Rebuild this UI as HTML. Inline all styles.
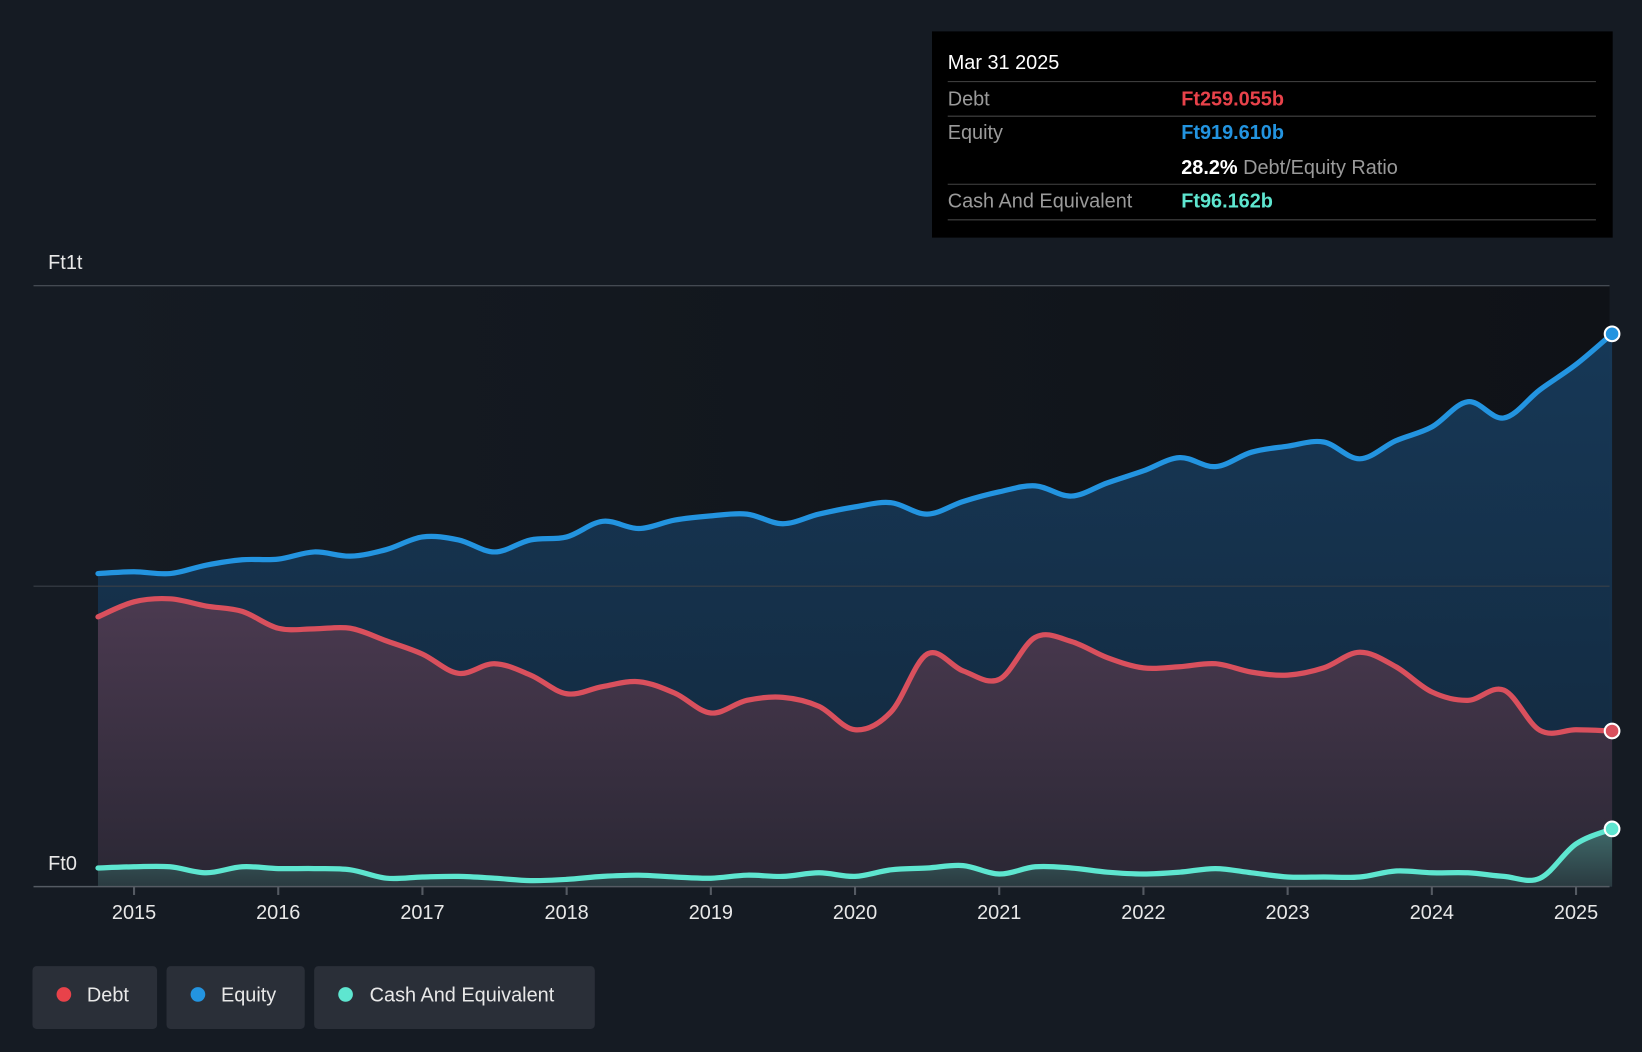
<!DOCTYPE html>
<html><head><meta charset="utf-8"><style>
html,body{margin:0;padding:0;background:#151b23;}
svg{display:block;font-family:"Liberation Sans",Arial,sans-serif;}
</style></head><body>
<svg id="chart" width="1642" height="1052" viewBox="0 0 1568 1005" preserveAspectRatio="none">
<defs>
<linearGradient id="gEq" x1="0" y1="0" x2="0" y2="1"><stop offset="0" stop-color="#173a5a" stop-opacity="0.95"/><stop offset="1" stop-color="#132a40" stop-opacity="0.9"/></linearGradient>
<linearGradient id="gDebt" x1="0" y1="0" x2="0" y2="1"><stop offset="0" stop-color="#4b3a50"/><stop offset="1" stop-color="#2a2734"/></linearGradient>
<linearGradient id="gCash" x1="0" y1="0" x2="0" y2="1"><stop offset="0" stop-color="#3f6a6a"/><stop offset="1" stop-color="#2a3a40"/></linearGradient>
<linearGradient id="gBg" x1="0" y1="0" x2="1" y2="0"><stop offset="0" stop-color="#151b23"/><stop offset="1" stop-color="#0f1217"/></linearGradient>
</defs>
<rect x="0" y="0" width="1568" height="1005" fill="#151b23"/>
<rect x="92" y="273" width="1445" height="574" fill="url(#gBg)"/>
<g id="marks"></g>
<line x1="32" y1="273" x2="1537" y2="273" stroke="#555b63" stroke-width="1"/>
<line x1="32" y1="560" x2="1537" y2="560" stroke="#3a4048" stroke-width="1"/>
<line x1="32" y1="847" x2="1537" y2="847" stroke="#555b63" stroke-width="1.5"/>
<text x="46" y="257" fill="#e8e8e8" font-size="19">Ft1t</text>
<text x="46" y="831" fill="#e8e8e8" font-size="19">Ft0</text>
<g id="xticks"></g>
<g id="dots"></g>
<g>
<rect x="890" y="30" width="650" height="197" fill="#000"/>
<text x="905" y="66" fill="#fff" font-size="19">Mar 31 2025</text>
<line x1="905" y1="78" x2="1524" y2="78" stroke="#444"/>
<text x="905" y="101" fill="#9a9a9a" font-size="19">Debt</text>
<text x="1128" y="101" fill="#e8424a" font-size="19" font-weight="bold">Ft259.055b</text>
<line x1="905" y1="111" x2="1524" y2="111" stroke="#444"/>
<text x="905" y="133" fill="#9a9a9a" font-size="19">Equity</text>
<text x="1128" y="133" fill="#2394e0" font-size="19" font-weight="bold">Ft919.610b</text>
<text x="1128" y="166" fill="#fff" font-size="19" font-weight="bold">28.2% <tspan fill="#9a9a9a" font-weight="normal">Debt/Equity Ratio</tspan></text>
<line x1="905" y1="176" x2="1524" y2="176" stroke="#444"/>
<text x="905" y="198" fill="#9a9a9a" font-size="19">Cash And Equivalent</text>
<text x="1128" y="198" fill="#5ee6d0" font-size="19" font-weight="bold">Ft96.162b</text>
<line x1="905" y1="210" x2="1524" y2="210" stroke="#444"/>
</g>
<g><rect x="31" y="923" width="119" height="60" rx="4" fill="#2a2f38"/><circle cx="61" cy="950" r="7" fill="#e8424a"/><text x="83" y="957" fill="#e8e8e8" font-size="19">Debt</text></g>
<g><rect x="159" y="923" width="132" height="60" rx="4" fill="#2a2f38"/><circle cx="189" cy="950" r="7" fill="#2394e0"/><text x="211" y="957" fill="#e8e8e8" font-size="19">Equity</text></g>
<g><rect x="300" y="923" width="268" height="60" rx="4" fill="#2a2f38"/><circle cx="330" cy="950" r="7" fill="#5ee6d0"/><text x="353" y="957" fill="#e8e8e8" font-size="19">Cash And Equivalent</text></g>
</svg>
<script>
const startYear = 2014.75;
const stepYear = 0.25;
const equity = [521,524,521,535,544,545,557,550,561,582,577,557,577,582,608,596,610,617,620,604,620,632,639,620,641,657,667,650,672,692,714,699,723,733,740,712,742,765,807,780,827,869,920];
const debt = [449,474,479,467,458,430,429,430,409,387,355,371,352,321,333,341,322,289,310,315,300,261,291,387,359,345,415,408,381,364,366,371,357,352,364,390,366,324,310,327,260,261,259];
const cash = [31,33,33,23,33,30,30,28,14,16,17,14,10,12,17,19,16,14,19,17,23,17,28,31,35,21,33,31,24,21,24,30,23,16,16,16,26,23,23,17,14,71,96];
const yearTicks = [2015,2016,2017,2018,2019,2020,2021,2022,2023,2024,2025];
const NS = "http://www.w3.org/2000/svg";
function xs(yr){return 128 + (yr-2015)*137.7;}
function ys(v){return 847 - v*0.574;}
function pts(arr){return arr.map((v,i)=>[xs(startYear+i*stepYear), ys(v)]);}
function spline(p){
  let d = "M"+p[0][0]+","+p[0][1];
  for(let i=0;i<p.length-1;i++){
    const p0=p[Math.max(i-1,0)],p1=p[i],p2=p[i+1],p3=p[Math.min(i+2,p.length-1)];
    const t=0.17;
    d+=" C"+(p1[0]+(p2[0]-p0[0])*t)+","+(p1[1]+(p2[1]-p0[1])*t)+" "+(p2[0]-(p3[0]-p1[0])*t)+","+(p2[1]-(p3[1]-p1[1])*t)+" "+p2[0]+","+p2[1];
  }
  return d;
}
const marks = document.getElementById("marks");
function series(arr, fill, stroke, name){
  const p = pts(arr);
  const line = spline(p);
  const area = document.createElementNS(NS,"path");
  area.setAttribute("d", line+" L"+p[p.length-1][0]+",847 L"+p[0][0]+",847 Z");
  area.setAttribute("fill", fill);
  
  
  marks.appendChild(area);
  return {line, p, stroke, name};
}
const s = [series(equity,"url(#gEq)","#2394e0","equity"), series(debt,"url(#gDebt)","#d9505d","debt"), series(cash,"url(#gCash)","#5ee6d0","cash")];
const dots = document.getElementById("dots");
s.forEach(o=>{
  const l = document.createElementNS(NS,"path");
  l.setAttribute("d", o.line);
  l.setAttribute("fill","none");
  l.setAttribute("stroke", o.stroke);
  l.setAttribute("stroke-width","5");
  l.setAttribute("stroke-linecap","round");
  
  
  marks.appendChild(l);
  const last = o.p[o.p.length-1];
  const c = document.createElementNS(NS,"circle");
  c.setAttribute("cx", last[0]); c.setAttribute("cy", last[1]); c.setAttribute("r","7");
  c.setAttribute("fill", o.stroke); c.setAttribute("stroke","#fff"); c.setAttribute("stroke-width","2");
  
  
  dots.appendChild(c);
});
const xt = document.getElementById("xticks");
yearTicks.forEach(y=>{
  const t = document.createElementNS(NS,"line");
  t.setAttribute("x1", xs(y)); t.setAttribute("x2", xs(y));
  t.setAttribute("y1", 847); t.setAttribute("y2", 855);
  t.setAttribute("stroke","#555b63"); t.setAttribute("stroke-width","2");
  
  
  xt.appendChild(t);
  const tx = document.createElementNS(NS,"text");
  tx.setAttribute("x", xs(y)); tx.setAttribute("y", 878);
  tx.setAttribute("text-anchor","middle"); tx.setAttribute("fill","#e8e8e8"); tx.setAttribute("font-size","19");
  tx.textContent = y;
  
  
  xt.appendChild(tx);
});
</script>
</body></html>
